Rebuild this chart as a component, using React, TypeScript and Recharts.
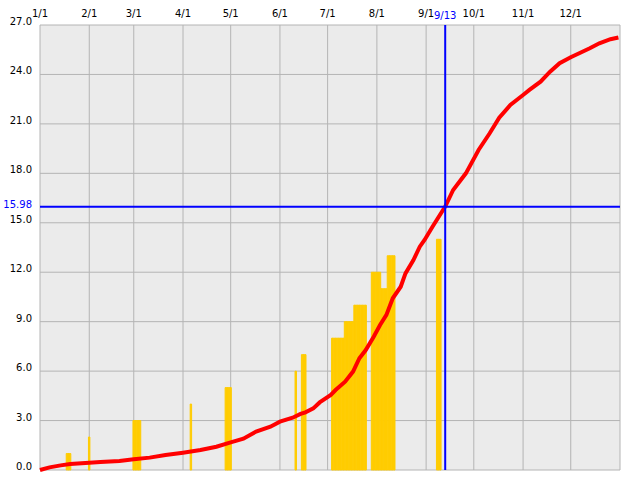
import React from "react";
import {
  ComposedChart,
  Bar,
  Line,
  XAxis,
  YAxis,
  CartesianGrid,
  ReferenceLine,
} from "recharts";

// day of year (0 = Jan 1)
const monthStarts = [0, 31, 59, 90, 120, 151, 181, 212, 243, 273, 304, 334, 365];
const monthLabels = ["1/1", "2/1", "3/1", "4/1", "5/1", "6/1", "7/1", "8/1", "9/1", "10/1", "11/1", "12/1", ""];
const yTicks = [0, 3, 6, 9, 12, 15, 18, 21, 24, 27];

// bars: [first day, last day, value]
const barRanges: [number, number, number][] = [
  [17, 19, 1],
  [31, 31, 2],
  [59, 63, 3],
  [95, 95, 4],
  [117, 120, 5],
  [161, 161, 6],
  [165, 167, 7],
  [184, 191, 8],
  [192, 197, 9],
  [198, 205, 10],
  [209, 214, 12],
  [215, 218, 11],
  [219, 223, 13],
  [250, 252, 14],
];

// cumulative curve
const curveDays = [
  0, 6, 13, 19, 31, 38, 50, 59, 69, 79, 90, 101, 111, 120, 128, 136, 145, 151, 159, 164,
  167, 172, 176, 183, 186, 192, 197, 201, 205, 210, 214, 218, 222, 227, 230, 235, 239, 242,
  247, 255, 260, 268, 276, 283, 289, 296, 304, 308, 315, 321, 327, 334, 340, 346, 352, 359, 364,
];
const curveValues = [
  0, 0.16, 0.28, 0.36, 0.44, 0.49, 0.55, 0.65, 0.75, 0.91, 1.05, 1.21, 1.41, 1.68, 1.9, 2.33,
  2.63, 2.93, 3.17, 3.4, 3.5, 3.74, 4.1, 4.55, 4.85, 5.36, 5.97, 6.78, 7.28, 8.09, 8.8, 9.41,
  10.42, 11.12, 11.93, 12.74, 13.55, 13.96, 14.76, 15.98, 16.99, 18.0, 19.42, 20.43, 21.38,
  22.15, 22.75, 23.06, 23.56, 24.17, 24.68, 25.04, 25.32, 25.59, 25.89, 26.14, 26.24,
];

const markDay = 255;
const markLabel = "9/13";
const markValue = 15.98;

const data = Array.from({ length: 365 }, (_, day) => {
  const r = barRanges.find(([a, b]) => day >= a && day <= b);
  const i = curveDays.indexOf(day);
  return {
    day,
    bar: r ? r[2] : null,
    total: i >= 0 ? curveValues[i] : null,
  };
});

const YTick = ({ x, y, payload }: any) => (
  <text x={x} y={y} textAnchor="end" fontSize={10} fill="#000">
    {payload.value.toFixed(1)}
  </text>
);

export default function App() {
  return (
    <div style={{ position: "absolute", left: 0, top: 0, fontFamily: "DejaVu Sans", background: "#fff" }}>
      <ComposedChart
        width={640}
        height={480}
        data={data}
        margin={{ top: 0, right: 20, bottom: 10, left: 0 }}
        barCategoryGap={0}
      >
        <CartesianGrid stroke="#b4b4b4" fill="#ebebeb" />
        <XAxis
          dataKey="day"
          type="number"
          orientation="top"
          height={25}
          domain={[0, 365]}
          ticks={monthStarts}
          tickFormatter={(v: number) => monthLabels[monthStarts.indexOf(v)]}
          tickLine={false}
          axisLine={false}
          tick={{ fontSize: 10, fill: "#000" }}
        />
        <YAxis
          width={40}
          domain={[0, 27]}
          ticks={yTicks}
          tickLine={false}
          axisLine={false}
          tick={<YTick />}
        />
        <Bar
          dataKey="bar"
          fill="#ffcc00"
          stroke="#ffcc00"
          strokeWidth={1}
          barSize={2}
          isAnimationActive={false}
        />
        <Line
          dataKey="total"
          type="linear"
          stroke="#ff0000"
          strokeWidth={4}
          dot={false}
          connectNulls
          isAnimationActive={false}
        />
        <ReferenceLine
          x={markDay}
          stroke="#0000ff"
          strokeWidth={2}
          label={({ viewBox }: any) => (
            <text x={viewBox.x} y={viewBox.y - 6} textAnchor="middle" fontSize={10} fill="#0000ff">
              {markLabel}
            </text>
          )}
        />
        <ReferenceLine
          y={markValue}
          stroke="#0000ff"
          strokeWidth={2}
          label={({ viewBox }: any) => (
            <text x={viewBox.x - 8} y={viewBox.y + 1} textAnchor="end" fontSize={10} fill="#0000ff">
              {markValue.toFixed(2)}
            </text>
          )}
        />
      </ComposedChart>
    </div>
  );
}
